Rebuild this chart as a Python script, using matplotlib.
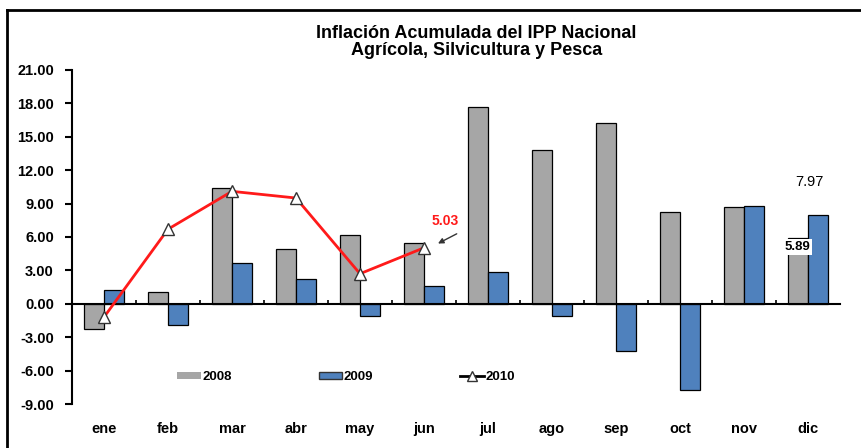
import matplotlib.pyplot as plt
from matplotlib.lines import Line2D
from matplotlib.patches import Patch
import numpy as np

plt.rcParams['font.family'] = ['Liberation Sans', 'DejaVu Sans']

# Datos
meses = ['ene', 'feb', 'mar', 'abr', 'may', 'jun', 'jul', 'ago', 'sep', 'oct', 'nov', 'dic']
v2008 = [-2.3, 1.1, 10.4, 4.9, 6.2, 5.5, 17.7, 13.8, 16.2, 8.2, 8.7, 5.89]
v2009 = [1.2, -1.9, 3.7, 2.2, -1.1, 1.6, 2.9, -1.1, -4.2, -7.7, 8.8, 7.97]
v2010 = [-1.2, 6.7, 10.1, 9.5, 2.7, 5.03]
yticks = [-9, -6, -3, 0, 3, 6, 9, 12, 15, 18, 21]

GRIS = '#A6A6A6'
AZUL = '#4F81BD'
ROJO = '#FF1A1A'

fig = plt.figure(figsize=(8.61, 4.48), dpi=100)
ax = fig.add_axes([0.0836, 0.0982, 0.8920, 0.7456])

x = np.arange(len(meses))
w = 0.31
ax.bar(x - w / 2, v2008, w, color=GRIS, edgecolor='black', linewidth=0.9, zorder=2)
ax.bar(x + w / 2, v2009, w, color=AZUL, edgecolor='black', linewidth=0.9, zorder=2)
ax.plot(x[:len(v2010)], v2010, color=ROJO, lw=2, marker='^', markersize=9,
        markerfacecolor='white', markeredgecolor='#333333', markeredgewidth=1, zorder=4)

ax.set_xlim(-0.5, len(meses) - 0.5)
ax.set_ylim(-9, 21)

# Eje Y
ax.set_yticks(yticks)
ax.set_yticklabels([f'{v:.2f}' for v in yticks], fontsize=10.5, fontweight='bold')
ax.tick_params(axis='y', direction='out', length=5, width=1.5, pad=8)
ax.spines['left'].set_linewidth(1.5)
for s in ['top', 'right']:
    ax.spines[s].set_visible(False)

# Eje X en cero
ax.spines['bottom'].set_position(('data', 0))
ax.spines['bottom'].set_linewidth(1.5)
ax.spines['bottom'].set_zorder(3)
ax.set_xticks(x)
ax.set_xticklabels([])
ax.set_xticks(x[:-1] + 0.5, minor=True)
ax.tick_params(axis='x', which='major', length=0)
ax.tick_params(axis='x', which='minor', direction='in', length=3, width=1.2)

sec = ax.secondary_xaxis('bottom')
sec.set_xticks(x)
sec.set_xticklabels(meses, fontsize=10.5, fontweight='bold')
sec.tick_params(length=0, pad=13)
sec.spines['bottom'].set_visible(False)

# Titulo
fig.text(0.553, 0.907, 'Inflación Acumulada del IPP Nacional\nAgrícola, Silvicultura y Pesca',
         ha='center', va='center', fontsize=13, fontweight='bold', linespacing=1.0)

# Anotaciones
ax.text(5.33, 7.45, '5.03', color=ROJO, fontsize=10, fontweight='bold', ha='center', va='center')
ax.annotate('', xy=(5.18, 5.3), xytext=(5.55, 6.4),
            arrowprops=dict(arrowstyle='-|>', color='#333333', lw=1, mutation_scale=8))
ax.text(10.83, 5.1, '5.89', fontsize=9.5, fontweight='bold', ha='center', va='center',
        bbox=dict(facecolor='white', edgecolor='none', pad=1.5), zorder=5)
ax.text(11.03, 10.9, '7.97', fontsize=10.5, ha='center', va='center')

# Leyenda
handles = [Patch(facecolor=GRIS, edgecolor='none'),
           Patch(facecolor=AZUL, edgecolor='#333333'),
           Line2D([], [], color='black', lw=2, marker='^', markersize=7,
                  markerfacecolor='white', markeredgecolor='#333333')]
ax.legend(handles, ['2008', '2009', '2010'], ncol=3, frameon=False,
          loc='center left', bbox_to_anchor=(0.13, 0.081),
          prop=dict(size=9.5, weight='bold'), handlelength=1.8, handleheight=0.5,
          handletextpad=0.1, columnspacing=6.6, borderaxespad=0)

# Marco exterior
fig.add_artist(Line2D([0.0081, 1.0], [0.978, 0.978], color='black', lw=2))
fig.add_artist(Line2D([0.0081, 0.0081], [0.0, 0.978], color='black', lw=2))

fig.savefig('out.png', dpi=100)
